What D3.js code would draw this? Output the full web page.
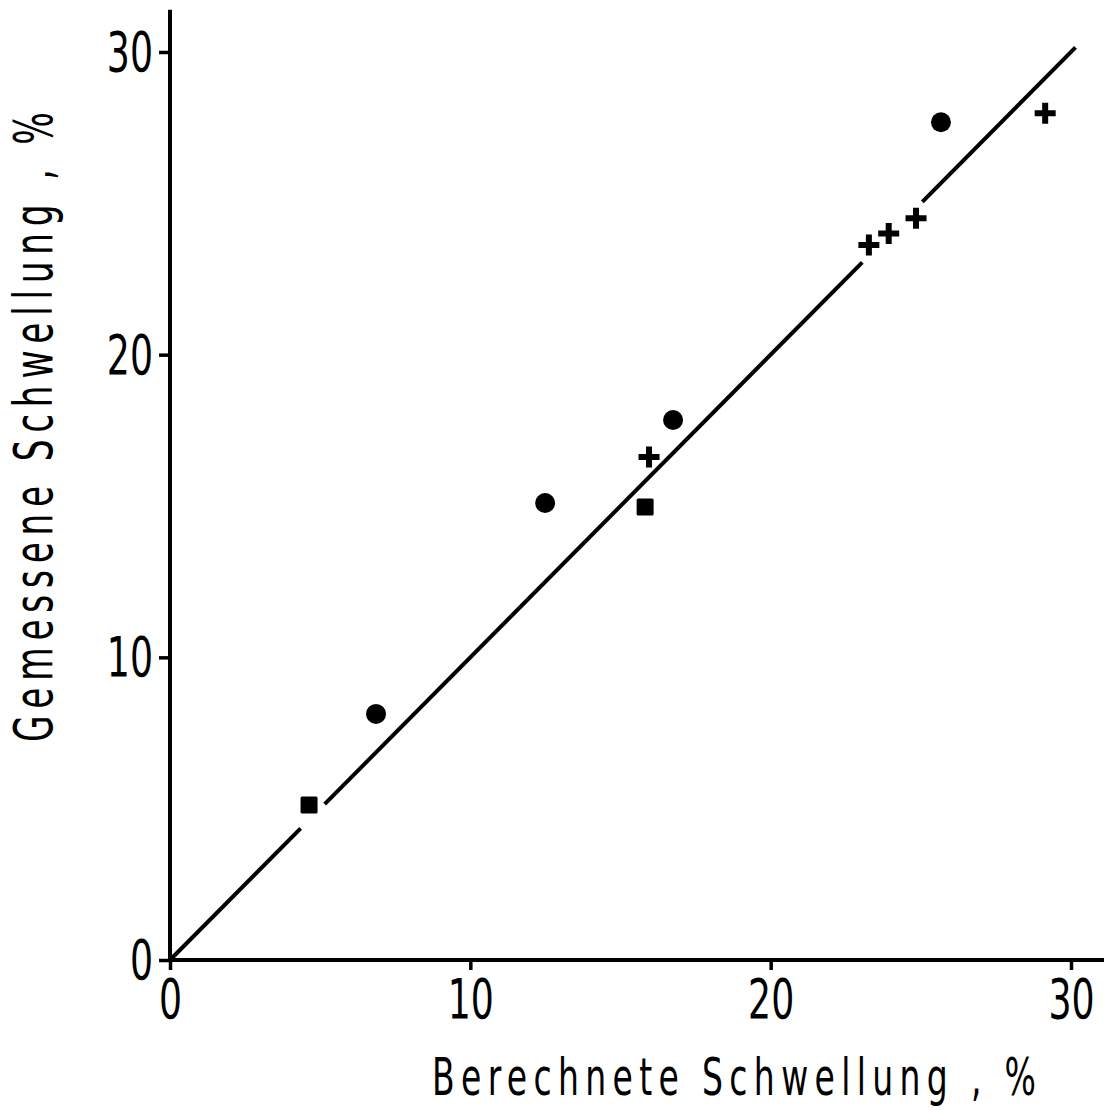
<!DOCTYPE html>
<html>
<head>
<meta charset="utf-8">
<script src="https://cdn.jsdelivr.net/npm/d3@7"></script>
<style>
  html, body { margin: 0; padding: 0; background: #fff; }
</style>
</head>
<body>
<div id="chart"></div>
<script>
// measured points (berechnet = x, gemessen = y)
const circles = [
  { x: 6.86, y: 8.13 },
  { x: 12.49, y: 15.1 },
  { x: 16.75, y: 17.84 },
  { x: 25.67, y: 27.68 },
];
const squares = [
  { x: 4.63, y: 5.12 },
  { x: 15.82, y: 14.97 },
];
const crosses = [
  { x: 15.95, y: 16.62 },
  { x: 23.27, y: 23.62 },
  { x: 23.93, y: 24.0 },
  { x: 24.84, y: 24.51 },
  { x: 29.14, y: 27.98 },
];
// the 1:1 line is broken where markers sit on it
const lineSegments = [
  [0, 4.35],
  [5.15, 23.05],
  [25.05, 30.15],
];
const ticks = [0, 10, 20, 30];
const xLabel = "Berechnete Schwellung , %";
const yLabel = "Gemessene Schwellung , %";
const xAxisEnd = 31.1;
const yAxisEnd = 31.4;

const size = { width: 1104, height: 1110 };
const font = "'Liberation Sans Narrow', 'DejaVu Sans Condensed', sans-serif";
const squeeze = 0.72; // the original lettering is very condensed

const svg = d3.select("#chart")
  .append("svg")
  .attr("width", size.width)
  .attr("height", size.height);

const x = d3.scaleLinear().domain([0, 30]).range([170, 1071]);
const y = d3.scaleLinear().domain([0, 30]).range([960, 52]);

// axes
const xAxis = svg.append("g")
  .attr("transform", `translate(0, ${y(0)})`)
  .call(d3.axisBottom(x).tickValues(ticks).tickSize(10).tickPadding(8).tickSizeOuter(0));
const yAxis = svg.append("g")
  .attr("transform", `translate(${x(0)}, 0)`)
  .call(d3.axisLeft(y).tickValues(ticks).tickSize(11).tickPadding(6).tickSizeOuter(0));

[xAxis, yAxis].forEach((g) => {
  g.select(".domain").remove();
  g.selectAll(".tick line").attr("stroke", "#000").attr("stroke-width", 3.5);
  g.selectAll(".tick text")
    .attr("fill", "#000")
    .style("font-family", font)
    .style("font-size", "56px");
});
xAxis.selectAll(".tick text").attr("transform", `scale(${squeeze},1)`);
yAxis.selectAll(".tick text")
  .attr("transform", `scale(${squeeze},1)`)
  .attr("x", -17 / squeeze)
  .attr("dy", "0.33em");

// axis lines
svg.append("line")
  .attr("x1", x(0)).attr("x2", x(xAxisEnd))
  .attr("y1", y(0)).attr("y2", y(0))
  .attr("stroke", "#000").attr("stroke-width", 4);
svg.append("line")
  .attr("x1", x(0)).attr("x2", x(0))
  .attr("y1", y(0)).attr("y2", y(yAxisEnd))
  .attr("stroke", "#000").attr("stroke-width", 4);

// 1:1 line
const line = d3.line().x((d) => x(d)).y((d) => y(d));
svg.selectAll(".fit")
  .data(lineSegments)
  .join("path")
  .attr("class", "fit")
  .attr("fill", "none")
  .attr("stroke", "#000")
  .attr("stroke-width", 4)
  .attr("d", line);

// markers
svg.selectAll(".circ")
  .data(circles)
  .join("circle")
  .attr("class", "circ")
  .attr("cx", (d) => x(d.x))
  .attr("cy", (d) => y(d.y))
  .attr("r", 10)
  .attr("fill", "#000");

svg.selectAll(".sq")
  .data(squares)
  .join("rect")
  .attr("class", "sq")
  .attr("x", (d) => x(d.x) - 8.5)
  .attr("y", (d) => y(d.y) - 8.5)
  .attr("width", 17)
  .attr("height", 17)
  .attr("rx", 1.5)
  .attr("fill", "#000");

svg.selectAll(".cross")
  .data(crosses)
  .join("path")
  .attr("class", "cross")
  .attr("transform", (d) => `translate(${x(d.x)}, ${y(d.y)})`)
  .attr("d", "M-10.5,0H10.5M0,-10.5V10.5")
  .attr("stroke", "#000")
  .attr("stroke-width", 6)
  .attr("fill", "none");

// axis titles: condensed glyphs, spread out with extra spacing
svg.append("text")
  .attr("transform", `translate(432, 1095) scale(${squeeze},1)`)
  .attr("textLength", 604 / squeeze)
  .attr("lengthAdjust", "spacing")
  .style("font-family", font)
  .style("font-size", "51px")
  .text(xLabel);

svg.append("text")
  .attr("transform", `translate(52, 742) rotate(-90) scale(${squeeze},1)`)
  .attr("textLength", 630 / squeeze)
  .attr("lengthAdjust", "spacing")
  .style("font-family", font)
  .style("font-size", "53px")
  .text(yLabel);
</script>
</body>
</html>
